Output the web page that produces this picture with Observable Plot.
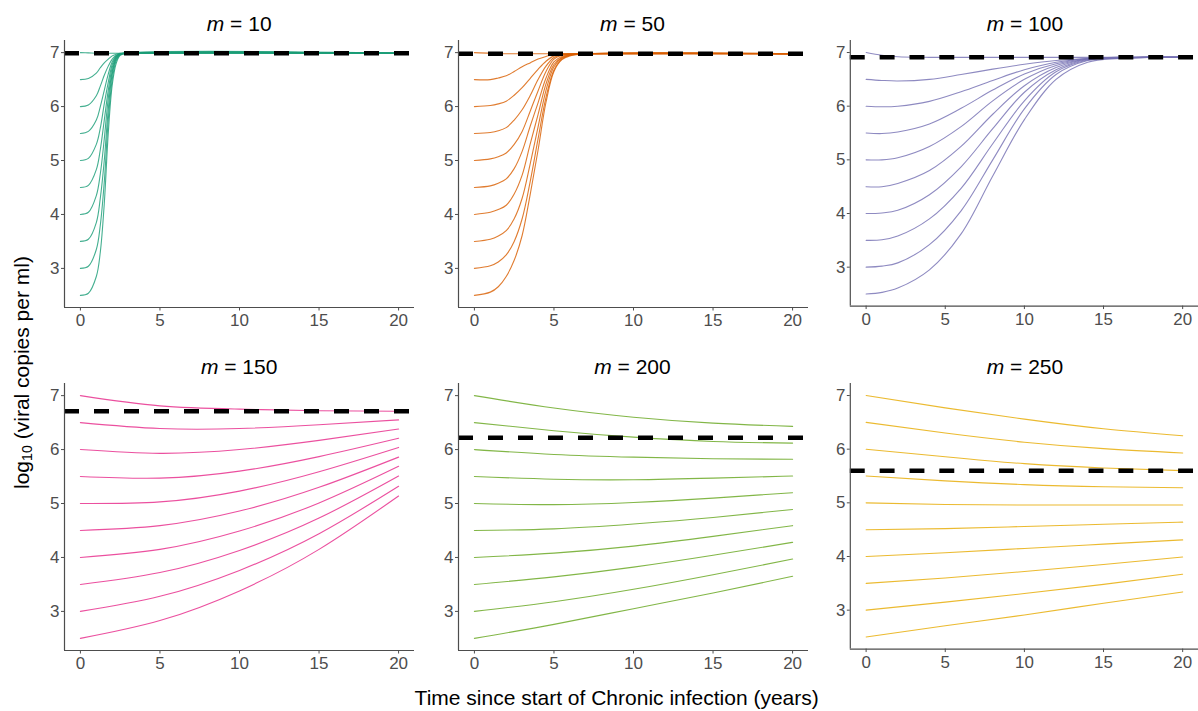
<!DOCTYPE html>
<html>
<head>
<meta charset="utf-8">
<script src="https://cdn.jsdelivr.net/npm/d3@7"></script>
<script src="https://cdn.jsdelivr.net/npm/@observablehq/plot@0.6"></script>
<style>
  html, body { margin: 0; padding: 0; background: #fff; }
  #wrap { position: relative; width: 1198px; height: 711px; overflow: hidden; font-family: "Liberation Sans", Arial, sans-serif; }
  .panel { position: absolute; }
  .ptitle { position: absolute; width: 350px; text-align: center; font-size: 21px; line-height: 21px; color: #000; white-space: nowrap; }
  .xlab { position: absolute; width: 600px; text-align: center; font-size: 21px; line-height: 21px; color: #000; white-space: nowrap; }
  .ylab { position: absolute; width: 320px; text-align: center; font-size: 21px; line-height: 21px; color: #000; white-space: nowrap; transform: rotate(-90deg); }
</style>
</head>
<body>
<div id="wrap"></div>
<script>
// ---- data ----
const mValues = [10, 50, 100, 150, 200, 250];
const colors = ["#1b9e77", "#d95f02", "#7570b3", "#e7298a", "#66a61e", "#e6ab02"];
const equilibrium = [6.99, 6.98, 6.91, 6.71, 6.22, 5.6];
const startValues = [2.5, 3.0, 3.5, 4.0, 4.5, 5.0, 5.5, 6.0, 6.5, 7.0];
const xTicks = [0, 5, 10, 15, 20];
const yTicks = [3, 4, 5, 6, 7];

const times_m10 = [0, 0.5, 1, 1.25, 1.5, 1.75, 2, 2.25, 2.5, 3, 20];
const values_m10 = [
  [2.5, 2.54, 2.85, 3.3, 4.2, 5.5, 6.4, 6.8, 6.95, 6.99, 6.99],
  [3.0, 3.04, 3.35, 3.8, 4.6, 5.75, 6.5, 6.85, 6.96, 6.99, 6.99],
  [3.5, 3.54, 3.85, 4.3, 5.0, 5.95, 6.6, 6.88, 6.97, 6.99, 6.99],
  [4.0, 4.04, 4.35, 4.75, 5.4, 6.15, 6.65, 6.9, 6.97, 6.99, 6.99],
  [4.5, 4.54, 4.83, 5.2, 5.75, 6.3, 6.72, 6.92, 6.98, 6.99, 6.99],
  [5.0, 5.04, 5.3, 5.6, 6.05, 6.45, 6.78, 6.93, 6.98, 6.99, 6.99],
  [5.5, 5.54, 5.75, 6.0, 6.3, 6.6, 6.83, 6.94, 6.98, 6.99, 6.99],
  [6.0, 6.03, 6.2, 6.38, 6.58, 6.75, 6.88, 6.95, 6.98, 6.99, 6.99],
  [6.5, 6.52, 6.62, 6.72, 6.81, 6.88, 6.94, 6.97, 6.99, 6.99, 6.99],
  [7.0, 6.995, 6.99, 6.99, 6.99, 6.99, 6.99, 6.99, 6.99, 6.99, 6.99]
];

const times_m50 = [0, 1, 1.5, 2, 2.5, 3, 3.5, 4, 4.5, 5, 5.5, 6, 7, 20];
const values_m50 = [
  [2.5, 2.56, 2.66, 2.85, 3.15, 3.61, 4.36, 5.19, 6.08, 6.65, 6.87, 6.94, 6.98, 6.98],
  [3.0, 3.05, 3.12, 3.25, 3.5, 3.92, 4.6, 5.4, 6.17, 6.68, 6.88, 6.95, 6.98, 6.98],
  [3.5, 3.54, 3.6, 3.7, 3.92, 4.3, 4.93, 5.62, 6.3, 6.74, 6.9, 6.95, 6.98, 6.98],
  [4.0, 4.04, 4.09, 4.17, 4.38, 4.73, 5.3, 5.85, 6.42, 6.78, 6.91, 6.96, 6.98, 6.98],
  [4.5, 4.53, 4.58, 4.66, 4.85, 5.17, 5.63, 6.07, 6.53, 6.83, 6.93, 6.96, 6.98, 6.98],
  [5.0, 5.03, 5.07, 5.14, 5.3, 5.54, 5.91, 6.29, 6.65, 6.88, 6.95, 6.97, 6.98, 6.98],
  [5.5, 5.52, 5.55, 5.61, 5.75, 5.94, 6.2, 6.5, 6.75, 6.91, 6.96, 6.97, 6.98, 6.98],
  [6.0, 6.02, 6.05, 6.1, 6.21, 6.35, 6.52, 6.69, 6.84, 6.94, 6.97, 6.98, 6.98, 6.98],
  [6.5, 6.5, 6.53, 6.57, 6.65, 6.74, 6.81, 6.88, 6.93, 6.97, 6.98, 6.98, 6.98, 6.98],
  [7.0, 6.99, 6.98, 6.98, 6.98, 6.98, 6.98, 6.98, 6.98, 6.98, 6.98, 6.98, 6.98, 6.98]
];

const times_m100 = [0, 1, 2, 4, 6, 8, 10, 12, 14, 16, 18, 20];
const values_m100 = [
  [2.5, 2.53, 2.61, 2.95, 3.62, 4.7, 5.75, 6.5, 6.82, 6.89, 6.91, 6.91],
  [3.0, 3.02, 3.08, 3.42, 4.05, 5.0, 5.95, 6.59, 6.85, 6.9, 6.91, 6.91],
  [3.5, 3.51, 3.58, 3.9, 4.47, 5.3, 6.1, 6.64, 6.86, 6.9, 6.91, 6.91],
  [4.0, 4.01, 4.06, 4.35, 4.87, 5.58, 6.26, 6.68, 6.87, 6.9, 6.91, 6.91],
  [4.5, 4.5, 4.56, 4.8, 5.25, 5.85, 6.38, 6.72, 6.88, 6.9, 6.91, 6.91],
  [5.0, 5.0, 5.04, 5.25, 5.62, 6.1, 6.5, 6.76, 6.88, 6.9, 6.91, 6.91],
  [5.5, 5.49, 5.52, 5.67, 5.96, 6.3, 6.6, 6.79, 6.89, 6.9, 6.91, 6.91],
  [6.0, 5.99, 6.0, 6.09, 6.27, 6.48, 6.68, 6.82, 6.89, 6.91, 6.91, 6.91],
  [6.5, 6.48, 6.47, 6.5, 6.59, 6.69, 6.78, 6.85, 6.89, 6.91, 6.91, 6.91],
  [7.0, 6.95, 6.92, 6.91, 6.91, 6.91, 6.91, 6.91, 6.91, 6.91, 6.91, 6.91]
];

const times_m150 = [0, 5, 10, 15, 20];
const values_m150 = [
  [2.5, 2.83, 3.38, 4.15, 5.14],
  [3.0, 3.28, 3.76, 4.44, 5.32],
  [3.5, 3.72, 4.13, 4.73, 5.51],
  [4.0, 4.15, 4.49, 5.01, 5.69],
  [4.5, 4.59, 4.86, 5.3, 5.86],
  [5.0, 5.03, 5.23, 5.59, 6.04],
  [5.5, 5.47, 5.6, 5.87, 6.21],
  [6.0, 5.93, 6.0, 6.17, 6.38],
  [6.5, 6.39, 6.39, 6.46, 6.55],
  [7.0, 6.81, 6.75, 6.72, 6.71]
];

const times_m200 = [0, 5, 10, 15, 20];
const values_m200 = [
  [2.5, 2.76, 3.05, 3.34, 3.65],
  [3.0, 3.18, 3.41, 3.68, 3.97],
  [3.5, 3.64, 3.82, 4.04, 4.28],
  [4.0, 4.08, 4.21, 4.39, 4.59],
  [4.5, 4.53, 4.62, 4.74, 4.89],
  [5.0, 4.98, 5.02, 5.1, 5.2],
  [5.5, 5.45, 5.44, 5.47, 5.51],
  [6.0, 5.91, 5.86, 5.83, 5.82],
  [6.5, 6.35, 6.23, 6.15, 6.12],
  [7.0, 6.77, 6.6, 6.49, 6.43]
];

const times_m250 = [0, 5, 10, 15, 20];
const values_m250 = [
  [2.5, 2.71, 2.91, 3.13, 3.34],
  [3.0, 3.15, 3.31, 3.48, 3.67],
  [3.5, 3.6, 3.72, 3.85, 3.99],
  [4.0, 4.07, 4.15, 4.23, 4.31],
  [4.5, 4.52, 4.56, 4.6, 4.64],
  [5.0, 4.97, 4.96, 4.96, 4.96],
  [5.5, 5.41, 5.34, 5.3, 5.28],
  [6.0, 5.86, 5.73, 5.65, 5.6],
  [6.5, 6.3, 6.13, 6.01, 5.93],
  [7.0, 6.77, 6.56, 6.38, 6.25]
];

const allTimes = [times_m10, times_m50, times_m100, times_m150, times_m200, times_m250];
const allValues = [values_m10, values_m50, values_m100, values_m150, values_m200, values_m250];
const curveTypes = ["catmull-rom", "catmull-rom", "catmull-rom", "natural", "natural", "natural"];

// ---- layout ----
const frameLefts = [64.2, 457.5, 850];
const frameTops = [39.5, 383];
const frameW = 350, frameH = 267;
const ML = 40, MT = 10, MB = 32, MR = 0;

const wrap = document.getElementById("wrap");

mValues.forEach((m, i) => {
  const col = i % 3, row = Math.floor(i / 3);
  const data = [];
  allValues[i].forEach((vals, k) => {
    vals.forEach((v, j) => data.push({t: allTimes[i][j], v, start: startValues[k]}));
  });
  const chart = Plot.plot({
    width: ML + frameW + MR,
    height: MT + frameH + MB,
    marginLeft: ML, marginRight: MR, marginTop: MT, marginBottom: MB,
    style: {background: "transparent", fontFamily: "'Liberation Sans', Arial, sans-serif", fontSize: "17px", overflow: "visible"},
    x: {domain: [-1, 21]},
    y: {domain: [2.275, 7.225]},
    marks: [
      Plot.line(data, {x: "t", y: "v", z: "start", stroke: colors[i], strokeWidth: 1.1, strokeOpacity: 0.82, curve: curveTypes[i]}),
      Plot.ruleY([equilibrium[i]], {stroke: "#000", strokeWidth: 4.5, strokeDasharray: "15,15"}),
      Plot.ruleX([-1], {stroke: "#4d4d4d", strokeWidth: 1.2}),
      Plot.ruleY([2.275], {stroke: "#4d4d4d", strokeWidth: 1.2}),
      Plot.axisX({ticks: xTicks, tickSize: 3.5, tickPadding: 3, label: null, color: "#4d4d4d", tickFormat: d => String(d)}),
      Plot.axisY({ticks: yTicks, tickSize: 3, tickPadding: 2, label: null, color: "#4d4d4d", tickFormat: d => String(d)})
    ]
  });
  const box = document.createElement("div");
  box.className = "panel";
  box.style.left = (frameLefts[col] - ML) + "px";
  box.style.top = (frameTops[row] - MT) + "px";
  box.appendChild(chart);
  wrap.appendChild(box);

  const title = document.createElement("div");
  title.className = "ptitle";
  title.style.left = frameLefts[col] + "px";
  title.style.top = (frameTops[row] - 9 - 17.8) + "px";
  title.innerHTML = "<i>m</i> = " + m;
  wrap.appendChild(title);
});

const xlab = document.createElement("div");
xlab.className = "xlab";
xlab.style.left = (616.7 - 300) + "px";
xlab.style.top = (705 - 17.8) + "px";
xlab.textContent = "Time since start of Chronic infection (years)";
wrap.appendChild(xlab);

const ylab = document.createElement("div");
ylab.className = "ylab";
ylab.style.left = (20.7 - 160) + "px";
ylab.style.top = (372 - 10.5) + "px";
ylab.innerHTML = "log<span style=\"font-size:0.68em;vertical-align:-0.28em;line-height:0\">10</span> (viral copies per ml)";
wrap.appendChild(ylab);
</script>
</body>
</html>
